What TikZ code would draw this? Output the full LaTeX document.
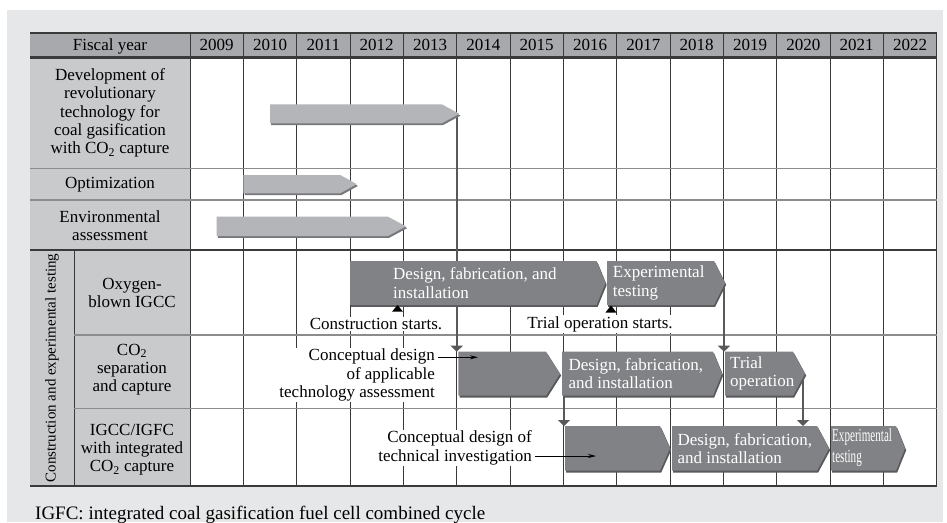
\documentclass[tikz,border=0pt]{standalone}
\usepackage{fontspec}
\setmainfont{Liberation Serif}
\usetikzlibrary{arrows.meta}
\definecolor{panel}{HTML}{E6E7E8}
\definecolor{headgray}{HTML}{A7A9AC}
\definecolor{labelgray}{HTML}{C9CACC}
\definecolor{lightbar}{HTML}{B3B5B8}
\definecolor{lightshade}{HTML}{77787B}
\definecolor{darkbar}{HTML}{808285}
\definecolor{darkshade}{HTML}{58595B}
\definecolor{gridline}{HTML}{3A3A3A}
\definecolor{rowline}{HTML}{8C8C8C}

% chevron bar: #1 left, #2 tip, #3 top, #4 bottom, #5 point depth, #6 kind (light/dark)
\newcommand\chevbar[6]{%
  \fill[#6shade] ({#1+1.2},{#3+1.8}) -- ({#2-#5+1.2},{#3+1.8}) -- ({#2+1.2},{(#3+#4)/2+1.8})
    -- ({#2-#5+1.2},{#4+1.8}) -- ({#1+1.2},{#4+1.8}) -- cycle;
  \fill[#6bar] (#1,#3) -- ({#2-#5},#3) -- (#2,{(#3+#4)/2}) -- ({#2-#5},#4) -- (#1,#4) -- cycle;
}

\begin{document}
\begin{tikzpicture}[x=1pt,y=-1pt,
  txt/.style={font=\fontsize{17}{18.3}\selectfont, inner sep=0pt, align=center},
  bartxt/.style={txt, text=white, align=left, anchor=west},
  note/.style={txt, fill=white, inner sep=1pt},
  grid/.style={draw=gridline, line width=0.8pt},
  rowsep/.style={draw=rowline, line width=1.3pt},
  heavy/.style={draw=gridline, line width=2pt},
  link/.style={draw=darkshade, line width=1.8pt, -{Triangle[width=12pt,length=6pt]}},
  pointer/.style={draw=black, line width=0.7pt, shorten <=2pt, -{Stealth[length=8pt,width=4pt]}},
]
\useasboundingbox (0,0) rectangle (947,522);
\fill[panel] (7,10) rectangle (943,522);

% table body
\fill[headgray] (30,32.5) rectangle (936.7,57.5);
\fill[labelgray] (30,57.5) rectangle (190,486);
\fill[white] (190,57.5) rectangle (936.7,486);

% year columns
\foreach \i in {0,...,14}
  \draw[grid] ({190+\i*53.333},32.5) -- ({190+\i*53.333},486);
\draw[grid] (74,250) -- (74,486);

% row separators
\draw[rowsep] (30,168.3) -- (936.7,168.3);
\draw[rowsep] (30,200) -- (936.7,200);
\draw[grid, line width=1.2pt] (30,250) -- (936.7,250);
\draw[rowsep] (74,335) -- (936.7,335);
\draw[rowsep] (74,408.3) -- (936.7,408.3);
\draw[heavy] (30,32.5) -- (936.7,32.5);
\draw[heavy, line width=2.4pt] (30,57.5) -- (936.7,57.5);
\draw[heavy] (30,486) -- (936.7,486);

% header
\node[txt, anchor=base] (fy) at (110,50.7) {Fiscal year};
\foreach \y [count=\i from 0] in {2009,...,2022}
  \node[txt, anchor=base] (y\y) at ({190+(\i+0.5)*53.333},50.7) {\y};

% row labels
\node[txt] (r1) at (110,113) {Development of\\revolutionary\\technology for\\coal gasification\\with CO\textsubscript{2} capture};
\node[txt] (r2) at (110,184.3) {Optimization};
\node[txt] (r3) at (110,225.5) {Environmental\\assessment};
\node[txt, rotate=90, font=\fontsize{15}{16}\selectfont] (sect) at (52,368) {Construction and experimental testing};
\node[txt] (r4) at (132,293) {Oxygen-\\blown IGCC};
\node[txt] (r5) at (132,369.5) {CO\textsubscript{2}\\separation\\and capture};
\node[txt] (r6) at (132,449.5) {IGCC/IGFC\\with integrated\\CO\textsubscript{2} capture};

% connector end points
\coordinate (devend) at (456.7,114);
\coordinate (cdtop) at (456.7,351.7);
\coordinate (exend) at (724,283);
\coordinate (trialtop) at (724,351.7);
\coordinate (dfiend) at (564,395.7);
\coordinate (citop) at (564,426);
\coordinate (trialend) at (803,373.7);
\coordinate (dfi2top) at (803,426);

% hand-over links between stages
\draw[link] (devend) -- (cdtop);
\draw[link] (exend) -- (trialtop);
\draw[link] (dfiend) -- (citop);
\draw[link] (trialend) -- (dfi2top);

% bars
\chevbar{270}{459.3}{104.3}{123.3}{17.5}{light}
\chevbar{243.3}{356.7}{175}{193.3}{16.5}{light}
\chevbar{216.7}{406}{216.7}{236}{18}{light}

\chevbar{350}{605.5}{261}{305}{9}{dark}
\chevbar{607}{725}{261}{305}{11}{dark}
\chevbar{458.3}{560}{351.7}{395.7}{14}{dark}
\chevbar{562}{722}{351.7}{395.7}{9}{dark}
\chevbar{725}{805}{351.7}{395.7}{12}{dark}
\chevbar{565}{670}{426}{470.7}{10}{dark}
\chevbar{672}{829}{426}{470.7}{12}{dark}
\chevbar{831}{905}{426}{470.7}{9}{dark}

% bar captions
\node[bartxt] (b1) at (393,283) {Design, fabrication, and\\installation};
\node[bartxt] (b2) at (612.7,283) {Experimental\\testing};
\node[bartxt] (b3) at (568.3,373.7) {Design, fabrication,\\and installation};
\node[bartxt] (b4) at (730,373.7) {Trial\\operation};
\node[bartxt] (b5) at (677.3,448.3) {Design, fabrication,\\and installation};
\node[bartxt, font=\fontsize{18.5}{21}\selectfont] (b6) at (832,447.5)
  {\scalebox{0.6}[1]{Experimental}\\\scalebox{0.6}[1]{testing}};

% milestones
\fill[black] (392,311.7) -- (397.5,305) -- (403,311.7) -- cycle;
\fill[black] (605.5,312.5) -- (611,305.5) -- (616.5,312.5) -- cycle;
\node[note] (cs) at (376,324) {Construction starts.};
\node[note] (tos) at (600,324) {Trial operation starts.};

% notes pointing into the design bars
\node[note, align=right, anchor=east] (cda) at (436,375)
  {Conceptual design\\of applicable\\technology assessment};
\node[note, align=right, anchor=east] (cdt) at (533,447.7)
  {Conceptual design of\\technical investigation};
\coordinate (cdaarr) at (478,357.3);
\coordinate (cdtarr) at (596,456);
\draw[pointer] (cda.east |- cdaarr) -- (cdaarr);
\draw[pointer] (cdt.east |- cdtarr) -- (cdtarr);

% footnote
\node[anchor=base west, inner sep=0pt, font=\fontsize{19}{21}\selectfont] (foot) at (35,519.5)
  {IGFC: integrated coal gasification fuel cell combined cycle};
\end{tikzpicture}
\end{document}
